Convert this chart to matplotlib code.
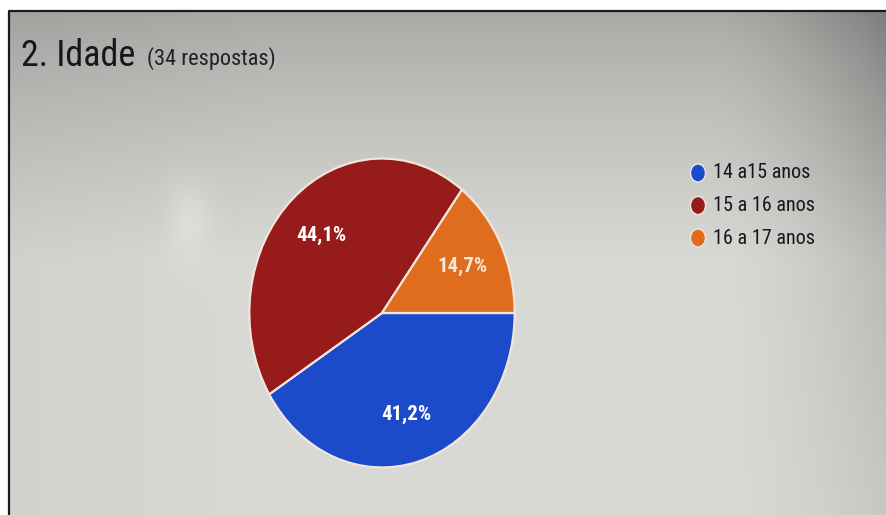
import numpy as np
import matplotlib.pyplot as plt
from matplotlib.patches import Ellipse

# survey answers for "Idade"
categories = ["14 a15 anos", "15 a 16 anos", "16 a 17 anos"]
counts = [14, 15, 5]
colors = ["#1b4bcb", "#981b1b", "#e06c1e"]

title = "2. Idade"
subtitle = "(34 respostas)"

FONT = ["Roboto Condensed", "Liberation Sans Narrow", "Roboto", "DejaVu Sans"]

W, H = 886, 515
fig = plt.figure(figsize=(W / 100, H / 100), dpi=100)
fig.patch.set_facecolor("white")

# background axes in pixel coordinates (y grows downwards)
bg = fig.add_axes([0, 0, 1, 1])
bg.set_xlim(0, W)
bg.set_ylim(H, 0)
bg.axis("off")

# screen-like grey shading: darker at the top and towards the right edge
x0, y0 = 9, 11
xs = np.linspace(0, 1, 300)
ys = np.linspace(0, 1, 200)
X, Y = np.meshgrid(xs, ys)
v = 0.66 + 0.19 * np.clip(Y / 0.5, 0, 1) ** 0.8
v -= 0.17 * np.clip((X - 0.80) / 0.20, 0, 1) ** 1.6 * (1 - 0.6 * Y)
v -= 0.03 * np.clip(1 - X / 0.3, 0, 1)
# faint glare spot left of the pie
v += 0.05 * np.exp(-(((X - 0.205) / 0.025) ** 2 + ((Y - 0.41) / 0.08) ** 2))
v = np.clip(v, 0, 1)
img = np.dstack([v, v, v * 0.985])
bg.imshow(img, extent=[x0, W, H, y0], aspect="auto", interpolation="bilinear", zorder=0)
bg.plot([x0, x0, W], [H, y0, y0], color="#1a1a1a", lw=1.6, zorder=1)

# title
bg.text(21, 56, title, fontsize=26, color="#16161e",
        va="center", ha="left", family=FONT, zorder=2)
bg.text(147, 59, subtitle, fontsize=16, color="#20202a", va="center", ha="left",
        family=FONT, zorder=2)

# legend
for i, (lab, col) in enumerate(zip(categories, colors)):
    yy = 173 + i * 32.5
    bg.add_patch(Ellipse((698, yy), 15, 18, facecolor=col, edgecolor="#ece8e0", lw=1.0, zorder=2))
    bg.text(713, yy, lab, fontsize=14.5, color="#16161e",
            va="center", ha="left", family=FONT, zorder=2)

# pie, stretched slightly taller than wide
px0, px1, py0, py1 = 248, 516, 157, 469
ax = fig.add_axes([px0 / W, 1 - py1 / H, (px1 - px0) / W, (py1 - py0) / H])
wedges, texts, autotexts = ax.pie(
    counts, colors=colors, startangle=0, counterclock=False,
    autopct=lambda p: f"{p:.1f}%".replace(".", ","), pctdistance=0.68,
    wedgeprops=dict(edgecolor="#f0e6dc", linewidth=1.6),
    textprops=dict(color="white", fontsize=15, fontweight="bold", family=FONT),
)
autotexts[2].set_color("#f4e6d8")
ax.set_aspect("auto")
ax.set_xlim(-1.01, 1.01)
ax.set_ylim(-1.01, 1.01)
ax.axis("off")

fig.savefig("out.png", dpi=100)
